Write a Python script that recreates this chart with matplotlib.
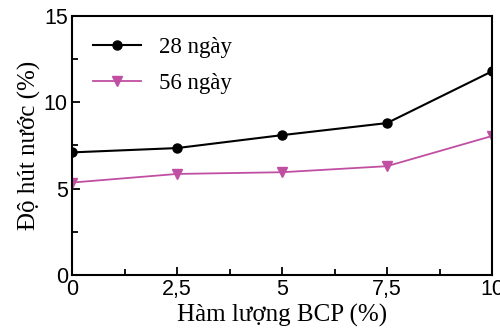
import matplotlib
matplotlib.use("Agg")
import matplotlib.pyplot as plt
from matplotlib.ticker import MultipleLocator, FuncFormatter

# data
bcp = [0, 2.5, 5, 7.5, 10]
day28 = [7.1, 7.35, 8.1, 8.8, 11.8]
day56 = [5.35, 5.85, 5.95, 6.3, 8.05]

fig = plt.figure(figsize=(5, 3.36), dpi=100)
ax = fig.add_axes([0.144, 0.182, 0.840, 0.770])

ax.plot(bcp, day28, color="black", lw=1.5, marker="o", ms=6.5, label="28 ngày")
ax.plot(bcp, day56, color="#c04fa3", lw=1.3, marker="v", ms=6.5, label="56 ngày")

ax.set_xlim(0, 10)
ax.set_ylim(0, 15)
ax.xaxis.set_major_locator(MultipleLocator(2.5))
ax.xaxis.set_minor_locator(MultipleLocator(1.25))
ax.yaxis.set_major_locator(MultipleLocator(5))
ax.yaxis.set_minor_locator(MultipleLocator(2.5))
ax.xaxis.set_major_formatter(FuncFormatter(lambda v, p: f"{v:g}".replace(".", ",")))

for s in ax.spines.values():
    s.set_linewidth(1.5)
ax.tick_params(which="both", direction="in", width=1.3, labelsize=15.5)
ax.tick_params(which="major", length=6)
ax.tick_params(which="minor", length=4)
for lab in ax.get_xticklabels() + ax.get_yticklabels():
    lab.set_family("Liberation Sans")
ax.tick_params(axis="x", pad=3)
ax.tick_params(axis="y", pad=3)

ax.set_xlabel("Hàm lượng BCP (%)", family="Liberation Serif", fontsize=18, labelpad=3)
ax.set_ylabel("Độ hút nước (%)", family="Liberation Serif", fontsize=18, labelpad=2)

leg = ax.legend(loc="upper left", frameon=False, prop={"family": "Liberation Serif", "size": 16.5},
                handlelength=2.1, borderaxespad=0.5, labelspacing=0.65, handletextpad=0.8)

fig.savefig("out.png", dpi=100)
